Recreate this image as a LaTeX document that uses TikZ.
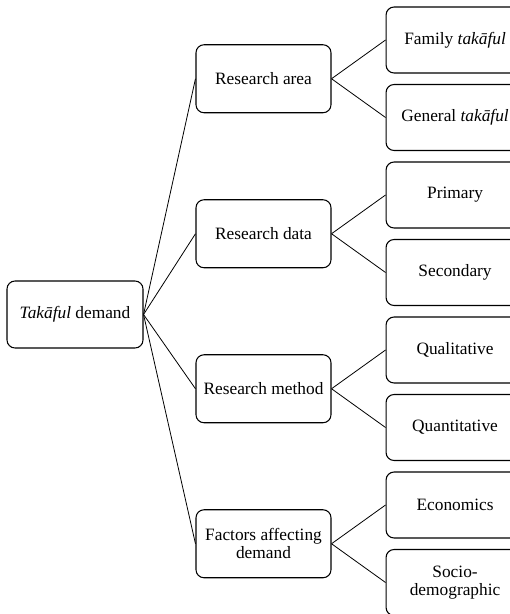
\documentclass[tikz,border=0pt]{standalone}
\usepackage{fontspec}
\setmainfont{Liberation Serif}
\usetikzlibrary{positioning}

\begin{document}
\begin{tikzpicture}[x=0.75pt, y=-0.75pt, node distance=40.5pt,
  topicbox/.style={draw, line width=0.8pt, rounded corners=6pt, align=center,
    font=\fontsize{13}{13.5}\selectfont, inner sep=0pt,
    minimum width=101.25pt, minimum height=51pt},
  leafbox/.style={topicbox, minimum width=103.5pt, minimum height=49.5pt},
  link/.style={line width=0.6pt}]
  \useasboundingbox (0,0) rectangle (510,614);
  \node[topicbox, minimum width=102pt, minimum height=50.25pt] (td) at (75,314.5) {\textit{Takāful} demand};
  \node[topicbox] (ra) at (263.5,78.75) {Research area};
  \node[topicbox] (rd) at (263.5,233.75) {Research data};
  \node[topicbox] (rm) at (263.5,388.75) {Research method};
  \node[topicbox] (fd) at (263.5,543.75) {Factors affecting\\demand};
  \node[leafbox, right=of ra, yshift=29.06pt] (fam) {Family \textit{takāful}};
  \node[leafbox, right=of ra, yshift=-29.06pt] (gen) {General \textit{takāful}};
  \node[leafbox, right=of rd, yshift=29.06pt] (pri) {Primary};
  \node[leafbox, right=of rd, yshift=-29.06pt] (sec) {Secondary};
  \node[leafbox, right=of rm, yshift=29.06pt] (qual) {Qualitative};
  \node[leafbox, right=of rm, yshift=-29.06pt] (quant) {Quantitative};
  \node[leafbox, right=of fd, yshift=29.06pt] (eco) {Economics};
  \node[leafbox, right=of fd, yshift=-29.06pt] (soc) {Socio-\\demographic};
  \draw[link] (td.east) -- (ra.west);
  \draw[link] (td.east) -- (rd.west);
  \draw[link] (td.east) -- (rm.west);
  \draw[link] (td.east) -- (fd.west);
  \draw[link] (ra.east) -- (fam.west);
  \draw[link] (ra.east) -- (gen.west);
  \draw[link] (rd.east) -- (pri.west);
  \draw[link] (rd.east) -- (sec.west);
  \draw[link] (rm.east) -- (qual.west);
  \draw[link] (rm.east) -- (quant.west);
  \draw[link] (fd.east) -- (eco.west);
  \draw[link] (fd.east) -- (soc.west);
\end{tikzpicture}
\end{document}
